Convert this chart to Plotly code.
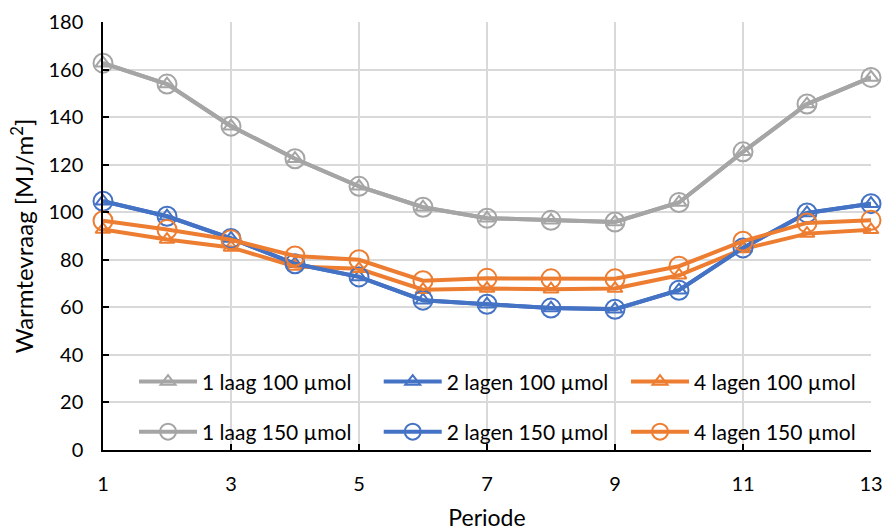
import plotly.graph_objects as go

periode = list(range(1, 14))
laag1_100 = [162.7, 153.9, 136.2, 122.5, 110.9, 102.1, 97.5, 96.6, 95.9, 104.1, 125.4, 145.5, 156.7]
laag1_150 = [162.7, 153.9, 136.2, 122.5, 110.9, 102.1, 97.5, 96.6, 95.9, 104.1, 125.4, 145.5, 156.7]
lagen2_100 = [104.6, 98.3, 89.0, 78.3, 72.8, 63.0, 61.3, 59.7, 59.2, 67.2, 85.0, 99.7, 103.6]
lagen2_150 = [104.6, 98.3, 89.0, 78.3, 72.8, 63.0, 61.3, 59.7, 59.2, 67.2, 85.0, 99.7, 103.6]
lagen4_100 = [92.7, 88.5, 85.2, 77.2, 76.2, 67.4, 67.9, 67.6, 67.9, 73.5, 84.5, 91.0, 92.6]
lagen4_150 = [96.4, 92.7, 88.4, 81.6, 80.0, 71.2, 72.2, 72.0, 72.0, 77.3, 87.8, 95.5, 96.6]

GRAY = "#A5A5A5"
BLUE = "#4472C4"
ORANGE = "#ED7D31"
FONT = "Lato"

series = [
    ("1 laag 100 µmol", laag1_100, GRAY, "triangle-up-open", 13, "legend"),
    ("2 lagen 100 µmol", lagen2_100, BLUE, "triangle-up-open", 13, "legend2"),
    ("4 lagen 100 µmol", lagen4_100, ORANGE, "triangle-up-open", 13, "legend3"),
    ("1 laag 150 µmol", laag1_150, GRAY, "circle-open", 19, "legend4"),
    ("2 lagen 150 µmol", lagen2_150, BLUE, "circle-open", 19, "legend5"),
    ("4 lagen 150 µmol", lagen4_150, ORANGE, "circle-open", 19, "legend6"),
]

fig = go.Figure()
for name, vals, col, sym, sz, leg in series:
    fig.add_trace(go.Scatter(
        x=periode, y=vals, name=name, mode="lines+markers",
        line=dict(color=col, width=4),
        marker=dict(symbol=sym, size=sz, color=col, line=dict(color=col, width=2)),
        cliponaxis=False, legend=leg, showlegend=True,
    ))

def leg(x, y):
    return dict(x=x, y=y, orientation="h", bgcolor="rgba(0,0,0,0)", visible=True,
                font=dict(family=FONT, size=21, color="#000000"),
                xanchor="left", yanchor="middle", itemwidth=58)

col_x = [0.0404, 0.359, 0.681]
row_y = [0.159, 0.042]

fig.update_layout(
    width=886, height=531,
    margin=dict(l=103, r=15, t=22, b=81),
    paper_bgcolor="white", plot_bgcolor="white",
    showlegend=True,
    font=dict(family=FONT, size=20, color="#000000"),
    legend=leg(col_x[0], row_y[0]),
    legend2=leg(col_x[1], row_y[0]),
    legend3=leg(col_x[2], row_y[0]),
    legend4=leg(col_x[0], row_y[1]),
    legend5=leg(col_x[1], row_y[1]),
    legend6=leg(col_x[2], row_y[1]),
    xaxis=dict(
        range=[1, 13], tickvals=[1, 3, 5, 7, 9, 11, 13], showgrid=True, gridcolor="#D9D9D9", gridwidth=1.5,
        showline=True, linecolor="#000000", linewidth=1.5, ticks="inside", ticklen=6, tickcolor="#000000",
        tickwidth=1.5, zeroline=False, tickfont=dict(family=FONT, size=20), ticklabelstandoff=15,
        automargin=False,
        title=dict(text="Periode", font=dict(family=FONT, size=23), standoff=18),
    ),
    yaxis=dict(
        range=[0, 180], tickvals=list(range(0, 181, 20)), showgrid=True, gridcolor="#D9D9D9", gridwidth=1.5,
        showline=True, linecolor="#000000", linewidth=1.5, ticks="inside", ticklen=6, tickcolor="#000000",
        tickwidth=1.5, zeroline=False, tickfont=dict(family=FONT, size=20), ticklabelstandoff=14,
        automargin=False,
        title=dict(text="Warmtevraag [MJ/m<sup>2</sup>]", font=dict(family=FONT, size=24), standoff=8),
    ),
)

fig.write_html("out.html")
